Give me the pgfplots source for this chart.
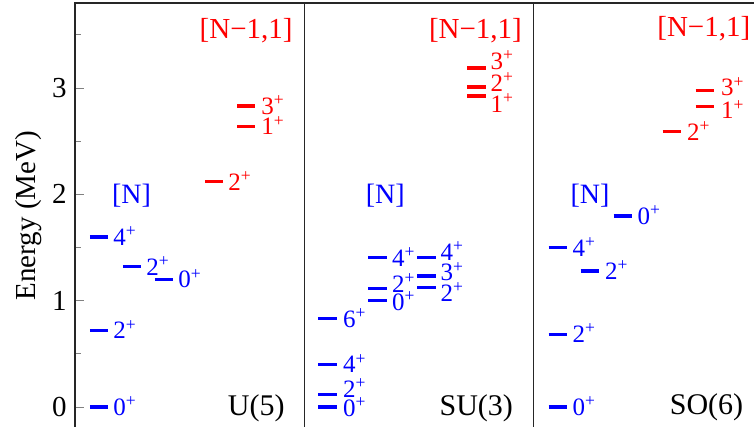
\documentclass[border=0pt]{standalone}
\usepackage{fontspec}
\setmainfont{Liberation Serif}
\usepackage{pgfplots}
\pgfplotsset{compat=1.18}
\begin{document}
\begin{tikzpicture}
\pgfplotsset{
  panel/.style={scale only axis, width=114.65pt, height=212.67pt,
    xmin=0, xmax=229.3, ymin=-0.2, ymax=3.8, xtick=\empty, ytick=\empty,
    axis line style={black!85, line width=0.6pt}, clip=false, anchor=south west,
    tick align=inside, major tick length=4.5pt, minor tick length=3pt,
    tick style={gray, line width=0.4pt}},
  lev/.style={line width=1.7pt},
}
\tikzset{
  lvl/.style={anchor=base west, inner sep=0pt, font=\fontsize{12.5}{14}\selectfont, yshift=-4.2pt},
  grp/.style={inner sep=0pt, font=\fontsize{14}{16}\selectfont},
  nm/.style={anchor=base east, inner sep=0pt, font=\fontsize{15}{17}\selectfont},
}
% ---------------- U(5) ----------------
\begin{axis}[panel, at={(0,0)},
  ytick={0,1,2,3}, minor ytick={0.5,1.5,2.5,3.5}, ytick pos=left,
  yticklabel style={font=\fontsize{14.5}{16}\selectfont, inner sep=4pt},
  /pgf/number format/assume math mode=true,
  ylabel={Energy (MeV)},
  every axis y label/.style={at={(axis description cs:0,0.5)}, xshift=-23.25pt, rotate=90, anchor=center, font=\fontsize{14.5}{16}\selectfont}]
\addplot[blue, lev] coordinates {(15,0) (33,0)};
\addplot[blue, lev] coordinates {(15,0.72) (33,0.72)};
\addplot[blue, lev] coordinates {(15,1.60) (33,1.60)};
\addplot[blue, lev] coordinates {(48,1.32) (66,1.32)};
\addplot[blue, lev] coordinates {(80,1.20) (98,1.20)};
\addplot[red, lev] coordinates {(130,2.12) (148,2.12)};
\addplot[red, lev] coordinates {(162,2.64) (180,2.64)};
\addplot[red, lev] coordinates {(162,2.83) (180,2.83)};
\node[lvl, blue] at (axis cs:38,0) {0\textsuperscript{+}};
\node[lvl, blue] at (axis cs:38,0.72) {2\textsuperscript{+}};
\node[lvl, blue] at (axis cs:38,1.60) {4\textsuperscript{+}};
\node[lvl, blue] at (axis cs:71,1.32) {2\textsuperscript{+}};
\node[lvl, blue] at (axis cs:103,1.20) {0\textsuperscript{+}};
\node[lvl, red] at (axis cs:153,2.12) {2\textsuperscript{+}};
\node[lvl, red] at (axis cs:186,2.64) {1\textsuperscript{+}};
\node[lvl, red] at (axis cs:186,2.83) {3\textsuperscript{+}};
\node[grp, blue, anchor=base] at (axis cs:56.5,1.91) {[N]};
\node[grp, red, anchor=base east, font=\fontsize{14.5}{16}\selectfont] at (axis cs:218,3.465) {[N−1,1]};
\node[nm] at (axis cs:210,-0.075) {U(5)};
\end{axis}
% ---------------- SU(3) ----------------
\begin{axis}[panel, at={(114.65pt,0)}]
\addplot[blue, lev] coordinates {(14,0) (32.5,0)};
\addplot[blue, lev] coordinates {(14,0.12) (32.5,0.12)};
\addplot[blue, lev] coordinates {(14,0.40) (32.5,0.40)};
\addplot[blue, lev] coordinates {(14,0.83) (32.5,0.83)};
\addplot[blue, lev] coordinates {(64,1.00) (82.5,1.00)};
\addplot[blue, lev] coordinates {(64,1.116) (82.5,1.116)};
\addplot[blue, lev] coordinates {(64,1.404) (82.5,1.404)};
\addplot[blue, lev] coordinates {(113,1.122) (131.5,1.122)};
\addplot[blue, lev] coordinates {(113,1.232) (131.5,1.232)};
\addplot[blue, lev] coordinates {(113,1.404) (131.5,1.404)};
\addplot[red, lev] coordinates {(163,2.925) (181.5,2.925)};
\addplot[red, lev] coordinates {(163,3.01) (181.5,3.01)};
\addplot[red, lev] coordinates {(163,3.19) (181.5,3.19)};
\node[lvl, blue] at (axis cs:38.5,-0.01) {0\textsuperscript{+}};
\node[lvl, blue] at (axis cs:38.5,0.17) {2\textsuperscript{+}};
\node[lvl, blue] at (axis cs:38.5,0.40) {4\textsuperscript{+}};
\node[lvl, blue] at (axis cs:38.5,0.83) {6\textsuperscript{+}};
\node[lvl, blue] at (axis cs:87.5,0.985) {0\textsuperscript{+}};
\node[lvl, blue] at (axis cs:87.5,1.155) {2\textsuperscript{+}};
\node[lvl, blue] at (axis cs:87.5,1.404) {4\textsuperscript{+}};
\node[lvl, blue] at (axis cs:136,1.07) {2\textsuperscript{+}};
\node[lvl, blue] at (axis cs:136,1.265) {3\textsuperscript{+}};
\node[lvl, blue] at (axis cs:136,1.46) {4\textsuperscript{+}};
\node[lvl, red] at (axis cs:186,2.85) {1\textsuperscript{+}};
\node[lvl, red] at (axis cs:186,3.05) {2\textsuperscript{+}};
\node[lvl, red] at (axis cs:186,3.255) {3\textsuperscript{+}};
\node[grp, blue, anchor=base] at (axis cs:81,1.91) {[N]};
\node[grp, red, anchor=base east, font=\fontsize{14.5}{16}\selectfont] at (axis cs:218,3.47) {[N−1,1]};
\node[nm] at (axis cs:209,-0.075) {SU(3)};
\end{axis}
% ---------------- SO(6) ----------------
\begin{axis}[panel, at={(229.3pt,0)},
  ytick={0,1,2,3}, minor ytick={0.5,1.5,2.5,3.5}, ytick pos=right, yticklabels={}]
\addplot[blue, lev] coordinates {(15,0) (33.5,0)};
\addplot[blue, lev] coordinates {(15,0.684) (33.5,0.684)};
\addplot[blue, lev] coordinates {(15,1.498) (33.5,1.498)};
\addplot[blue, lev] coordinates {(47,1.28) (65.5,1.28)};
\addplot[blue, lev] coordinates {(80,1.796) (98.5,1.796)};
\addplot[red, lev] coordinates {(129,2.59) (147.5,2.59)};
\addplot[red, lev] coordinates {(162,2.824) (180.5,2.824)};
\addplot[red, lev] coordinates {(162,2.975) (180.5,2.975)};
\node[lvl, blue] at (axis cs:38.5,0) {0\textsuperscript{+}};
\node[lvl, blue] at (axis cs:38.5,0.684) {2\textsuperscript{+}};
\node[lvl, blue] at (axis cs:38.5,1.498) {4\textsuperscript{+}};
\node[lvl, blue] at (axis cs:71,1.28) {2\textsuperscript{+}};
\node[lvl, blue] at (axis cs:103.5,1.796) {0\textsuperscript{+}};
\node[lvl, red] at (axis cs:153,2.59) {2\textsuperscript{+}};
\node[lvl, red] at (axis cs:187,2.79) {1\textsuperscript{+}};
\node[lvl, red] at (axis cs:187,3.005) {3\textsuperscript{+}};
\node[grp, blue, anchor=base] at (axis cs:56.5,1.91) {[N]};
\node[grp, red, anchor=base east, font=\fontsize{14.5}{16}\selectfont] at (axis cs:217,3.48) {[N−1,1]};
\node[nm] at (axis cs:210,-0.07) {SO(6)};
\end{axis}
\pgfresetboundingbox
\path[use as bounding box] (-37.5pt,0.65pt) rectangle (339.5pt,214.15pt);
\end{tikzpicture}
\end{document}
